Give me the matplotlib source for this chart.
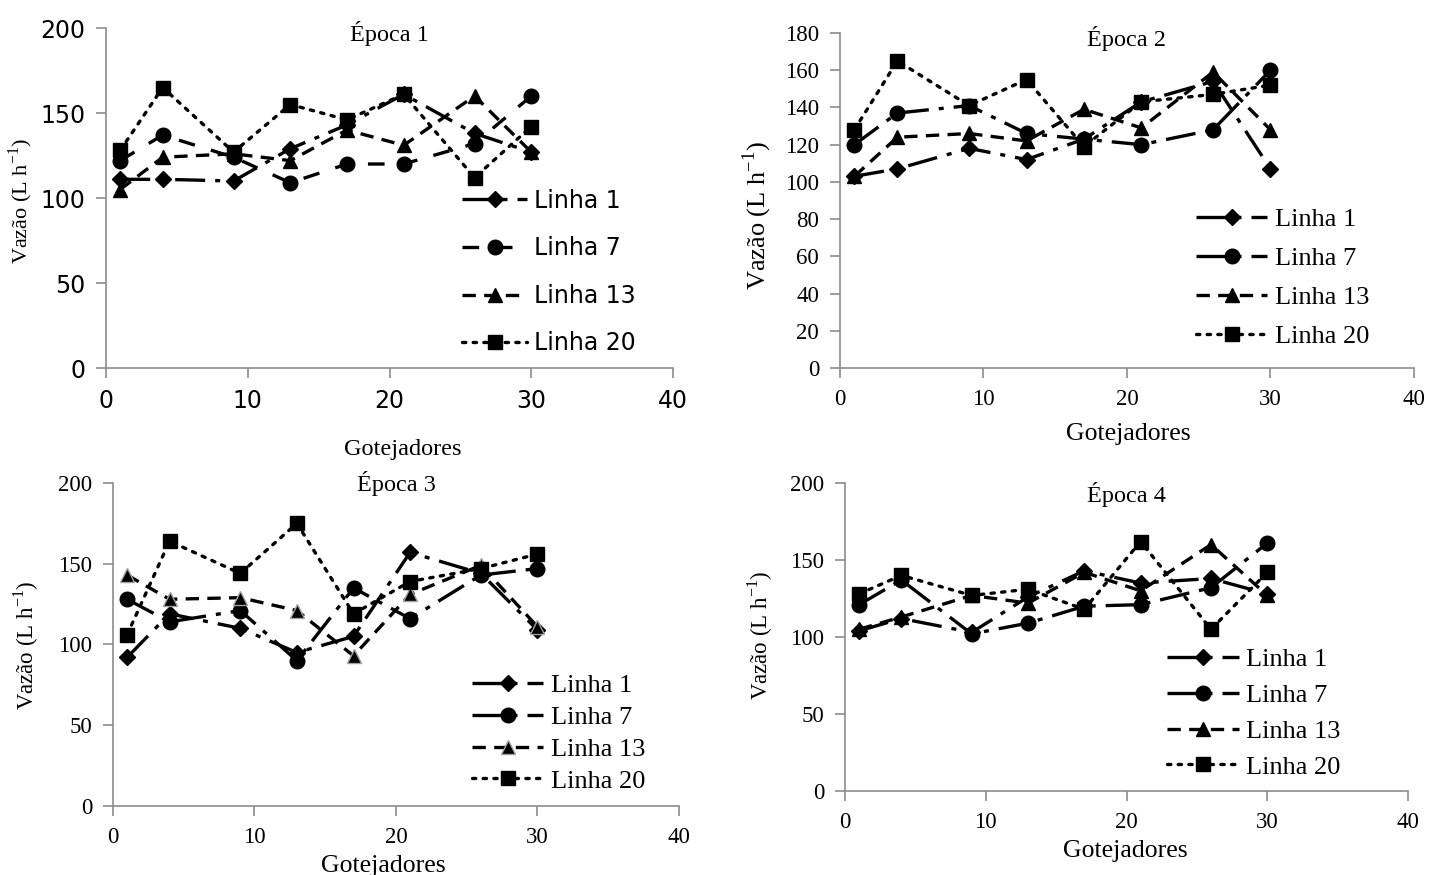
import matplotlib
matplotlib.use('Agg')
from matplotlib import pyplot as plt

gotejadores = [1, 4, 9, 13, 17, 21, 26, 30]
linhas = ['Linha 1', 'Linha 7', 'Linha 13', 'Linha 20']

# Época 1
e1_l1 = [111, 111, 110, 129, 143, 161, 138, 127]
e1_l7 = [122, 137, 124, 109, 120, 120, 132, 160]
e1_l13 = [105, 124, 126, 122, 140, 131, 160, 127]
e1_l20 = [128, 165, 127, 155, 146, 161, 112, 142]

# Época 2
e2_l1 = [103, 107, 118, 112, 123, 143, 154, 107]
e2_l7 = [120, 137, 141, 126, 123, 120, 128, 160]
e2_l13 = [103, 124, 126, 122, 139, 129, 159, 128]
e2_l20 = [128, 165, 141, 155, 119, 143, 147, 152]

# Época 3
e3_l1 = [92, 119, 110, 95, 105, 157, 144, 109]
e3_l7 = [128, 114, 121, 90, 135, 116, 143, 147]
e3_l13 = [143, 128, 129, 121, 93, 131, 149, 111]
e3_l20 = [106, 164, 144, 175, 119, 139, 147, 156]

# Época 4
e4_l1 = [104, 112, 103, 126, 143, 135, 138, 128]
e4_l7 = [121, 137, 102, 109, 120, 121, 132, 161]
e4_l13 = [105, 113, 127, 122, 142, 130, 160, 127]
e4_l20 = [128, 140, 127, 131, 118, 162, 105, 142]

serif = 'Liberation Serif'
sans = 'DejaVu Sans'
gray = '#8c8c8c'

fig = plt.figure(figsize=(14.48, 8.75), dpi=100)

panels = [
    dict(rect=[0.0732, 0.5794, 0.3916, 0.3886], title='Época 1', ty=0.985,
         series=[e1_l1, e1_l7, e1_l13, e1_l20], ymax=200, ystep=50,
         tickfont=sans, tsize=17, legfont=sans, lsize=17, hlen=2.75,
         leg=(0.311, 0.798), lspace=1.0, l7style=(0, (5, 5)),
         tri_edge='black', xlab=(0.278, 0.4865), xsize=17.5,
         ylab=(0.014, 0.77), ysize=16),
    dict(rect=[0.5801, 0.5794, 0.3964, 0.3829], title='Época 2', ty=0.985,
         series=[e2_l1, e2_l7, e2_l13, e2_l20], ymax=180, ystep=20,
         tickfont=serif, tsize=16.5, legfont=serif, lsize=19, hlen=2.7,
         leg=(0.817, 0.778), lspace=0.59, l7style=(0, (9, 3, 1.5, 3)),
         tri_edge='black', xlab=(0.779, 0.5035), xsize=18.5,
         ylab=(0.523, 0.754), ysize=19),
    dict(rect=[0.0780, 0.0789, 0.3909, 0.3691], title='Época 3', ty=1.0,
         series=[e3_l1, e3_l7, e3_l13, e3_l20], ymax=200, ystep=50,
         tickfont=serif, tsize=16.5, legfont=serif, lsize=19, hlen=2.7,
         leg=(0.317, 0.2454), lspace=0.32, l7style=(0, (9, 3, 1.5, 3)),
         tri_edge='#a0a0a0', xlab=(0.265, 0.0102), xsize=18.5,
         ylab=(0.018, 0.263), ysize=16.5),
    dict(rect=[0.5836, 0.096, 0.3888, 0.352], title='Época 4', ty=0.964,
         series=[e4_l1, e4_l7, e4_l13, e4_l20], ymax=200, ystep=50,
         tickfont=serif, tsize=16.5, legfont=serif, lsize=19, hlen=2.7,
         leg=(0.797, 0.275), lspace=0.47, l7style=(0, (9, 3, 1.5, 3)),
         tri_edge='black', xlab=(0.777, 0.0275), xsize=18.5,
         ylab=(0.525, 0.274), ysize=16.5),
]

for p in panels:
    ax = fig.add_axes(p['rect'])
    l1, l7, l13, l20 = p['series']
    ax.plot(gotejadores, l1, color='black', lw=2.4, linestyle=(0, (9, 3, 1.5, 3)),
            marker='D', markersize=8, label=linhas[0], clip_on=False)
    ax.plot(gotejadores, l7, color='black', lw=2.4, linestyle=p['l7style'],
            marker='o', markersize=10.5, label=linhas[1], clip_on=False)
    ax.plot(gotejadores, l13, color='black', lw=2.4, linestyle=(0, (4, 2.5)),
            marker='^', markersize=10.5, markeredgecolor=p['tri_edge'],
            label=linhas[2], clip_on=False)
    ax.plot(gotejadores, l20, color='black', lw=2.4, linestyle=(0, (1, 2.2)),
            dash_capstyle='round', marker='s', markersize=10.5, label=linhas[3],
            clip_on=False)

    ax.set_xlim(0, 40)
    ax.set_ylim(0, p['ymax'])
    ax.set_xticks(range(0, 41, 10))
    ax.set_yticks(range(0, p['ymax'] + 1, p['ystep']))
    for s in ['top', 'right']:
        ax.spines[s].set_visible(False)
    for s in ['left', 'bottom']:
        ax.spines[s].set_color(gray)
        ax.spines[s].set_linewidth(1.2)
    ax.tick_params(axis='both', direction='out', length=7, width=1.2, color=gray,
                   labelsize=p['tsize'], pad=8)
    for lab in ax.get_xticklabels() + ax.get_yticklabels():
        lab.set_fontfamily(p['tickfont'])

    ax.text(0.5, p['ty'], p['title'], transform=ax.transAxes, ha='center', va='center',
            fontsize=17.5, family=serif)

    fig.text(p['xlab'][0], p['xlab'][1], 'Gotejadores', ha='center', va='center',
             fontsize=p['xsize'], family=serif)
    fig.text(p['ylab'][0], p['ylab'][1], r'Vazão (L h$^{\mathregular{-1}}$)',
             rotation=90, ha='center', va='center', fontsize=p['ysize'], family=serif)

    ax.legend(loc='upper left', bbox_to_anchor=p['leg'], bbox_transform=fig.transFigure,
              frameon=False, borderpad=0, handlelength=p['hlen'], handletextpad=0.3,
              labelspacing=p['lspace'], numpoints=1,
              prop={'family': p['legfont'], 'size': p['lsize']})

plt.savefig('out.png', dpi=100)
